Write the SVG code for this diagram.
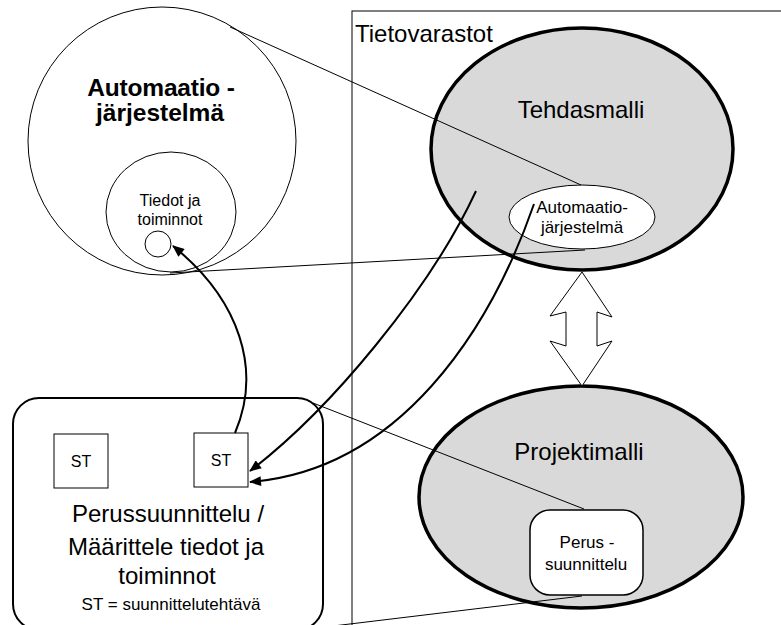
<svg xmlns="http://www.w3.org/2000/svg" width="781" height="625" viewBox="0 0 781 625">
  <style>
    text { font-family: "Liberation Sans", Arial, sans-serif; fill: #000; text-anchor: middle; }
    .big { font-size: 24px; }
    .small { font-size: 17px; }
    .thin { fill: none; stroke: #000; stroke-width: 1; }
    .store { fill: #d9d9d9; stroke: #000; stroke-width: 3.5; }
    .flow { fill: none; stroke: #000; stroke-width: 2; marker-end: url(#arrow); }
  </style>
  <defs>
    <marker id="arrow" viewBox="0 0 12 10" refX="11" refY="5" markerWidth="13" markerHeight="10" markerUnits="userSpaceOnUse" orient="auto">
      <path d="M0,0 L12,5 L0,10 Z" fill="#000"/>
    </marker>
  </defs>

  <rect width="781" height="625" fill="#fff"/>

  <!-- Data stores frame -->
  <g id="tietovarastot">
    <rect x="352" y="11" width="440" height="620" class="thin"/>
    <text x="355" y="42" class="big" style="text-anchor:start">Tietovarastot</text>
  </g>

  <!-- Automation system -->
  <g id="automaatiojarjestelma">
    <circle cx="162" cy="141" r="134" fill="#fff" stroke="#000" stroke-width="1"/>
    <text x="161" y="96" font-size="24.5" font-weight="bold" letter-spacing="-0.2">Automaatio -</text>
    <text x="160" y="121" font-size="24.5" font-weight="bold">järjestelmä</text>
  </g>
  <g id="tiedot-ja-toiminnot">
    <ellipse cx="171" cy="212" rx="65" ry="60" fill="#fff" stroke="#000" stroke-width="1"/>
    <text x="170" y="206" font-size="16">Tiedot ja</text>
    <text x="170" y="225" font-size="16">toiminnot</text>
    <circle cx="158" cy="244" r="13" fill="#fff" stroke="#000" stroke-width="1"/>
  </g>

  <!-- Factory model -->
  <g id="tehdasmalli">
    <ellipse cx="582" cy="149" rx="151" ry="121" class="store"/>
    <text x="581" y="118" class="big">Tehdasmalli</text>
  </g>
  <g id="tehdasmalli-automaatio">
    <ellipse cx="582" cy="217" rx="73" ry="32" fill="#fff" stroke="#000" stroke-width="1"/>
    <text x="582" y="213" class="small">Automaatio-</text>
    <text x="582" y="233" class="small">järjestelmä</text>
  </g>

  <!-- Project model -->
  <g id="projektimalli">
    <ellipse cx="581" cy="497" rx="162" ry="111" class="store"/>
    <text x="579" y="460" class="big">Projektimalli</text>
  </g>
  <g id="projektimalli-perussuunnittelu">
    <rect x="530" y="510" width="113" height="85" rx="20" fill="#fff" stroke="#000" stroke-width="1.5"/>
    <text x="587" y="548" class="small">Perus -</text>
    <text x="586" y="570" class="small">suunnittelu</text>
  </g>

  <!-- Two-way exchange between the models -->
  <g id="vaihto">
    <path d="M582,272 L612,317 L597,312 L597,346 L612,341 L582,386 L550,341 L566,346 L566,312 L550,316 Z" fill="#fff" stroke="#000" stroke-width="1"/>
  </g>

  <!-- Basic design task -->
  <g id="perussuunnittelu">
    <rect x="13" y="398" width="310" height="232" rx="26" fill="#fff" stroke="#000" stroke-width="2"/>
    <text x="168" y="522" class="big">Perussuunnittelu /</text>
    <text x="166" y="555" class="big">Määrittele tiedot ja</text>
    <text x="167" y="584" class="big">toiminnot</text>
    <text x="171" y="610" class="small">ST = suunnittelutehtävä</text>
  </g>
  <g id="st1">
    <rect x="54" y="434" width="54" height="54" fill="#fff" stroke="#000" stroke-width="1"/>
    <text x="81" y="467" font-size="16">ST</text>
  </g>
  <g id="st2">
    <rect x="194" y="433" width="54" height="54" fill="#fff" stroke="#000" stroke-width="1"/>
    <text x="221" y="466" font-size="16">ST</text>
  </g>

  <!-- Connectors -->
  <g id="connectors">
    <line x1="230" y1="27" x2="581" y2="185" class="thin"/>
    <line x1="170" y1="273" x2="585" y2="250" class="thin"/>
    <line x1="313" y1="403" x2="584" y2="509" class="thin"/>
    <line x1="300" y1="630" x2="582" y2="596" class="thin"/>
    <path d="M235,433 C262,370 240,300 173,246" class="flow"/>
    <path d="M476,191 C430,290 330,410 250,471" class="flow"/>
    <path d="M534,204 C490,330 400,470 250,482" class="flow"/>
  </g>
</svg>
